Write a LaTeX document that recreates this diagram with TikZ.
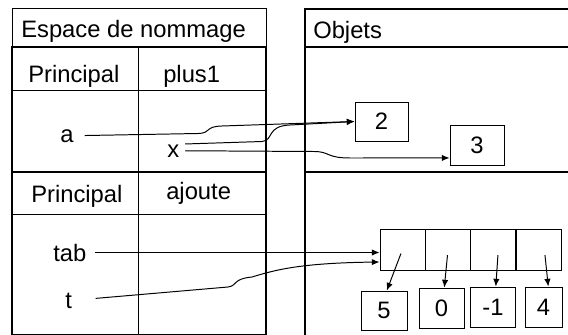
\documentclass[tikz,border=0pt]{standalone}
\usepackage{fontspec}
\setmainfont{Liberation Sans}
\usetikzlibrary{arrows.meta}

\begin{document}
\begin{tikzpicture}[x=0.025cm,y=-0.025cm,>={Latex[length=5.5pt,width=4.5pt]},
    every node/.style={font=\fontsize{16.9}{20}\selectfont},
    frame/.style={line width=2pt},
    rule/.style={line width=0.7pt},
    link/.style={->,line width=0.7pt}]

    \useasboundingbox (0,0) rectangle (568,335);

    % namespace table
    \draw[rule] (12,8) rectangle (266,46);
    \draw[frame] (12,335) -- (12,47) -- (266,47) -- (266,335);
    \draw[frame] (12,172) -- (266,172);
    \draw[rule] (12,90) -- (266,90);
    \draw[rule] (12,214) -- (266,214);
    \draw[rule] (138,47) -- (138,335);
    \draw[rule] (12,334) -- (266,334);

    % objects area
    \draw[frame] (568,9) -- (305,9) -- (305,335);
    \draw[frame] (305,47) -- (568,47);
    \draw[frame] (305,172) -- (568,172);

    \begin{scope}[every node/.append style={inner sep=0,anchor=base west}]
        \node (espace) at (21,37) {Espace de nommage};
        \node (objets) at (313,38) {Objets};
        \node (princ1) at (28,82) {Principal};
        \node (plus1) at (163,82) {plus1};
        \node (princ2) at (31,202) {Principal};
        \node (ajoute) at (166,199) {ajoute};
        \node (a) at (60,142) {a};
        \node (x) at (167,157) {x};
        \node (tab) at (53,261) {tab};
        \node (t) at (65,308) {t};
    \end{scope}

    \begin{scope}[every node/.append style={draw,rectangle,line width=0.6pt,inner sep=0,
                  minimum width=1.125cm,minimum height=1cm}]
        \node[minimum width=1.325cm,minimum height=0.975cm] (v2) at (381.5,121.5) {2};
        \node[minimum width=1.35cm] (v3) at (477,145) {3};
        \node[minimum height=1.025cm] (c1) at (402.5,249.5) {};
        \node[minimum height=1.025cm] (c2) at (447.5,249.5) {};
        \node[minimum height=1.025cm] (c3) at (493,249.5) {};
        \node[minimum height=1.025cm] (c4) at (538.5,249.5) {};
        \node[minimum width=1.15cm,minimum height=0.975cm] (v5) at (384,310.5) {5};
        \node (v0) at (441.5,308) {0};
        \node (vm1) at (493,307) {-1};
        \node[minimum width=0.925cm] (v4) at (543.5,307) {4};
    \end{scope}

    % references from names to objects
    \draw[link,shorten <=7.8pt] (a.east) -- (198,133.5)
        .. controls (212,133) and (204,126.5) .. (222,126) -- (v2.west);
    \draw[link,shorten <=4pt] (x.north east) -- (262,141.5)
        .. controls (274,140.5) and (266,126) .. (290,125) -- (v2.west);
    \draw[link,shorten <=4pt] (x.east) -- (314,151.5)
        .. controls (330,151.5) and (326,158) .. (350,158) -- ([yshift=-9.2pt]v3.west);
    \draw[link,shorten <=5.7pt] (tab.east) -- (tab.east -| c1.west);
    \draw[link,shorten <=16.7pt] (t.east) -- (228,287)
        .. controls (238,285.5) and (232,279) .. (252,277)
        .. controls (275,270) and (300,263) .. ([yshift=-8.9pt]c1.west);

    % list cells
    \draw[link,shorten <=3pt] (c1.center) -- ([xshift=2pt]v5.north);
    \draw[link] ([yshift=-4pt]c2.center) -- ([xshift=2pt]v0.north);
    \draw[link] ([xshift=3.5pt,yshift=-4pt]c3.center) -- ([xshift=2pt]vm1.north);
    \draw[link] ([xshift=4.6pt,yshift=-4pt]c4.center) -- ([xshift=3.4pt]v4.north);

\end{tikzpicture}
\end{document}
